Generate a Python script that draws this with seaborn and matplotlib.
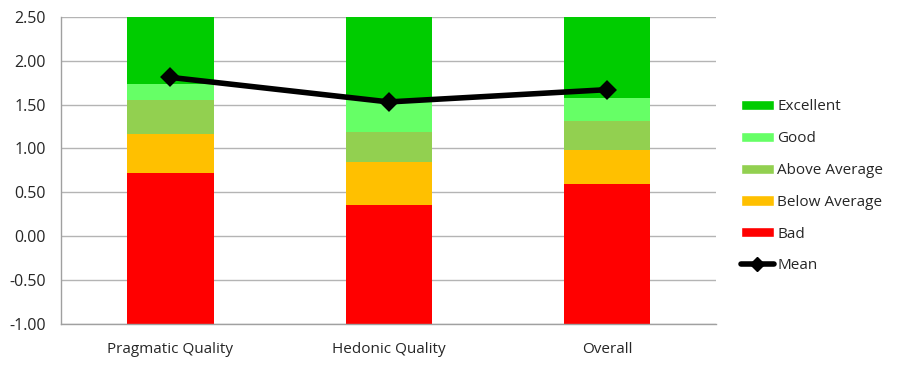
import numpy as np
import pandas as pd
import matplotlib
matplotlib.use("Agg")
import matplotlib.pyplot as plt
import seaborn as sns
from matplotlib.patches import Patch
from matplotlib.lines import Line2D

# benchmark data (upper bound of each band)
categories = ["Pragmatic Quality", "Hedonic Quality", "Overall"]
bad_top = [0.72, 0.35, 0.59]
below_avg_top = [1.17, 0.85, 0.98]
above_avg_top = [1.55, 1.19, 1.31]
good_top = [1.73, 1.55, 1.58]
excellent_top = [2.50, 2.50, 2.50]
means = [1.81, 1.53, 1.67]
axis_min = -1.0

levels = ["Bad", "Below Average", "Above Average", "Good", "Excellent"]
level_tops = [bad_top, below_avg_top, above_avg_top, good_top, excellent_top]
level_colors = ["#FF0000", "#FFC000", "#92D050", "#66FF66", "#00CC00"]

sns.set_style("white")
plt.rcParams["font.family"] = ["Open Sans", "DejaVu Sans"]

fig = plt.figure(figsize=(9, 3.66), dpi=100)
ax = fig.add_axes([0.068, 0.115, 0.728, 0.839])

bottoms = np.full(len(categories), axis_min)
for name, tops, col in zip(levels, level_tops, level_colors):
    tops = np.array(tops)
    df = pd.DataFrame({"cat": categories, "h": tops - bottoms})
    sns.barplot(data=df, x="cat", y="h", bottom=bottoms, color=col, saturation=1,
                width=0.395, ax=ax, linewidth=0, zorder=2, errorbar=None)
    bottoms = tops

mean_df = pd.DataFrame({"cat": categories, "mean": means})
sns.pointplot(data=mean_df, x="cat", y="mean", color="black", markers="D",
              linewidth=4, markersize=7, ax=ax, zorder=5)

ax.set_ylim(-1.0, 2.5)
ax.set_xlim(-0.5, 2.5)
ax.set_yticks(np.arange(-1.0, 2.51, 0.5))
ax.set_yticklabels([f"{v:.2f}" for v in np.arange(-1.0, 2.51, 0.5)], fontsize=11.5)
ax.set_xticks(range(len(categories)))
ax.set_xticklabels(categories, fontsize=11)
ax.tick_params(axis="x", which="major", length=0, pad=13)
ax.set_xticks([-0.5, 0.5, 1.5, 2.5], minor=True)
ax.tick_params(axis="x", which="minor", length=5, color="#a0a0a0", width=1)
ax.tick_params(axis="y", length=4, color="#a0a0a0", width=1, pad=7)
ax.set_xlabel("")
ax.set_ylabel("")

ax.yaxis.grid(True, color="#b4b4b4", linewidth=1, zorder=0)
ax.set_axisbelow(True)
for side in ["top", "right"]:
    ax.spines[side].set_visible(False)
for side in ["left", "bottom"]:
    ax.spines[side].set_color("#a0a0a0")
    ax.spines[side].set_linewidth(1)

handles = [Patch(facecolor=c, label=l) for l, c in zip(levels, level_colors)][::-1]
handles.append(Line2D([], [], color="black", marker="D", linewidth=4,
                      markersize=7, label="Mean"))
fig.legend(handles=handles, loc="upper left", bbox_to_anchor=(0.816, 0.745),
           frameon=False, fontsize=11, handlelength=2.2, handleheight=0.65,
           labelspacing=1.1, handletextpad=0.2, borderaxespad=0)

fig.savefig("out.png", dpi=100)
